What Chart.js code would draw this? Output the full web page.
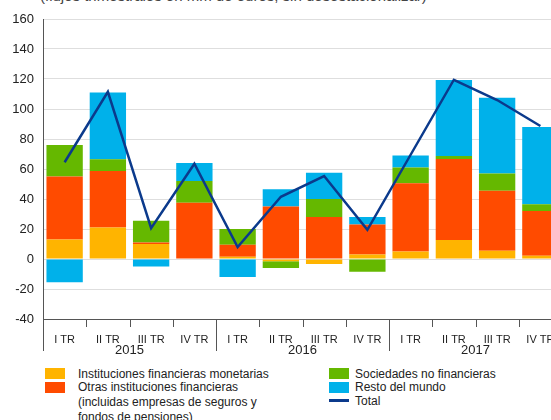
<!DOCTYPE html>
<html>
<head>
<meta charset="utf-8">
<script src="https://cdn.jsdelivr.net/npm/chart.js@4/dist/chart.umd.min.js"></script>
<style>
  html, body { margin: 0; padding: 0; background: #fff; overflow: hidden; }
  body { width: 551px; height: 420px; position: relative; font-family: "Liberation Sans", Arial, sans-serif; color: #222; }
  #wrap { position: absolute; left: 0; top: 0; width: 580px; height: 360px; }
  .title { position: absolute; left: 40px; top: -13px; font-size: 15px; line-height: 17px; color: #444; white-space: nowrap; }
  .leg { position: absolute; font-size: 12px; line-height: 14px; color: #222; white-space: nowrap; }
  .leg.multi { line-height: 15px; }
  .box { position: absolute; width: 20px; height: 11px; }
  .ln { position: absolute; width: 20px; height: 3px; }
</style>
</head>
<body>
<div class="title">(flujos trimestrales en mm de euros; sin desestacionalizar)</div>
<div id="wrap"><canvas id="flowChart" width="580" height="360"></canvas></div>
<div id="legend"></div>

<script>
// ========================================
// DATOS
// ========================================
const quarters = ['I TR', 'II TR', 'III TR', 'IV TR', 'I TR', 'II TR', 'III TR', 'IV TR', 'I TR', 'II TR', 'III TR', 'IV TR'];
const years = ['2015', '2016', '2017'];

const imfValues   = [13, 21, 10, 0, 1.5, -1.5, -3.3, 3, 5, 12.7, 5.5, 2.2];
const oifValues   = [42, 37.7, 1, 37.5, 8, 35, 28, 20, 45.5, 54, 40, 29.8];
const snfValues   = [21, 7.8, 14.5, 14.5, 10.5, -4.5, 12, -8.5, 10.5, 2, 11.5, 4.5];
const restoValues = [-15.5, 44.5, -5, 12, -12, 11.5, 17.5, 5, 8, 50.6, 50.5, 51.5];
const totalValues = [64.5, 111.5, 20.5, 63.5, 8, 41.5, 55.3, 19.5, 69.5, 119.5, 106, 88.7];

const yTicks = { min: -40, max: 160, step: 20 };

const colors = {
    imf: '#ffb400',
    oif: '#ff4b00',
    snf: '#65b800',
    resto: '#00b1ea',
    total: '#0b3a8c'
};

// eje x en dos niveles: trimestres + años
const yearAxisPlugin = {
    id: 'yearAxis',
    afterDraw(chart) {
        const ctx = chart.ctx;
        const x = chart.scales.x;
        const n = quarters.length;
        const w = x.width / n;
        ctx.save();
        ctx.strokeStyle = '#555';
        ctx.lineWidth = 1;
        for (let i = 0; i <= n; i++) {
            const px = Math.round(x.left + i * w) + 0.5;
            const long = i % 4 === 0;
            ctx.beginPath();
            ctx.moveTo(px, x.top);
            ctx.lineTo(px, x.top + (long ? 32 : 8));
            ctx.stroke();
        }
        ctx.fillStyle = '#222';
        ctx.font = '13px "Liberation Sans", Arial, sans-serif';
        ctx.textAlign = 'center';
        ctx.textBaseline = 'middle';
        years.forEach((yr, k) => {
            ctx.fillText(yr, x.left + (k * 4 + 2) * w, x.top + 31);
        });
        ctx.restore();
    }
};

function barSet(label, data, color) {
    return {
        type: 'bar',
        label: label,
        data: data,
        backgroundColor: color,
        stack: 'flujos',
        order: 1,
        categoryPercentage: 1,
        barPercentage: 0.84
    };
}

function initChart() {
    const ctx = document.getElementById('flowChart').getContext('2d');
    new Chart(ctx, {
        data: {
            labels: quarters,
            datasets: [
                barSet('Instituciones financieras monetarias', imfValues, colors.imf),
                barSet('Otras instituciones financieras', oifValues, colors.oif),
                barSet('Sociedades no financieras', snfValues, colors.snf),
                barSet('Resto del mundo', restoValues, colors.resto),
                {
                    type: 'line',
                    label: 'Total',
                    data: totalValues,
                    borderColor: colors.total,
                    borderWidth: 2.5,
                    pointRadius: 0,
                    tension: 0,
                    stack: 'total',
                    order: 0
                }
            ]
        },
        options: {
            responsive: false,
            animation: false,
            layout: { padding: { top: 19, right: 18, left: 0, bottom: 0 } },
            plugins: {
                legend: { display: false },
                tooltip: { enabled: false }
            },
            scales: {
                x: {
                    stacked: true,
                    grid: { display: false },
                    border: { display: true, color: '#555' },
                    ticks: {
                        color: '#222',
                        font: { size: 11, family: '"Liberation Sans", Arial, sans-serif' },
                        padding: 6,
                        maxRotation: 0,
                        autoSkip: false
                    },
                    afterFit: function(scale) { scale.height = 41; }
                },
                y: {
                    stacked: true,
                    min: yTicks.min,
                    max: yTicks.max,
                    grid: { color: '#dedede', drawTicks: false },
                    border: { display: true, color: '#555' },
                    ticks: {
                        stepSize: yTicks.step,
                        color: '#222',
                        padding: 9,
                        font: { size: 13, family: '"Liberation Sans", Arial, sans-serif' }
                    },
                    afterFit: function(scale) { scale.width = 43; }
                }
            }
        },
        plugins: [yearAxisPlugin]
    });
}

// leyenda en HTML
function buildLegend() {
    const items = [
        { kind: 'box', color: colors.imf, x: 45, y: 368, tx: 78, ty: 367, text: 'Instituciones financieras monetarias' },
        { kind: 'box', color: colors.oif, x: 45, y: 382, tx: 78, ty: 380, text: 'Otras instituciones financieras<br>(incluidas empresas de seguros y<br>fondos de pensiones)', multi: true },
        { kind: 'box', color: colors.snf, x: 329, y: 368, tx: 355, ty: 367, text: 'Sociedades no financieras' },
        { kind: 'box', color: colors.resto, x: 329, y: 382, tx: 355, ty: 380, text: 'Resto del mundo' },
        { kind: 'ln', color: colors.total, x: 329, y: 399, tx: 355, ty: 394, text: 'Total' }
    ];
    const legend = document.getElementById('legend');
    let html = '';
    items.forEach(it => {
        html += `<div class="${it.kind}" style="left:${it.x}px;top:${it.y}px;background:${it.color}"></div>`;
        html += `<div class="leg${it.multi ? ' multi' : ''}" style="left:${it.tx}px;top:${it.ty}px">${it.text}</div>`;
    });
    legend.innerHTML = html;
}

document.addEventListener('DOMContentLoaded', function() {
    initChart();
    buildLegend();
});
</script>
</body>
</html>
